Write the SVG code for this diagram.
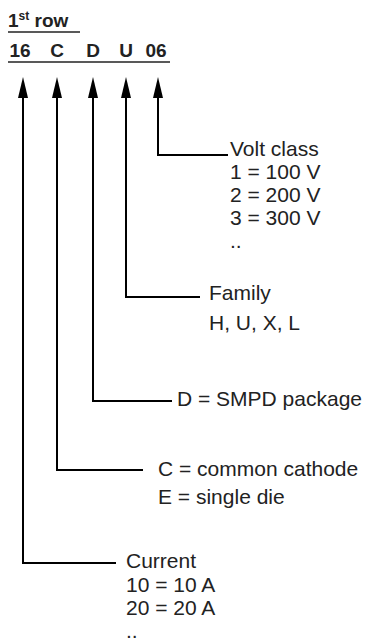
<svg xmlns="http://www.w3.org/2000/svg" width="373" height="644" viewBox="0 0 373 644">
<defs>
<style>
.t{font-family:"Liberation Sans",Arial,sans-serif;font-size:21px;fill:#222}
.h{font-family:"Liberation Sans",Arial,sans-serif;font-size:19px;font-weight:bold;fill:#222}
.ln{fill:none;stroke:#000;stroke-width:2}
.ul{stroke:#222;stroke-width:1.6}
.ah{fill:#000}
</style>
</defs>
<g id="header">
<text class="h" x="8" y="27">1<tspan font-size="12" dy="-7">st</tspan><tspan dy="7"> row</tspan></text>
<line class="ul" x1="8" y1="32" x2="80" y2="32"/>
<text class="h" y="57" text-anchor="middle"><tspan x="20">16</tspan><tspan x="57">C</tspan><tspan x="93">D</tspan><tspan x="126">U</tspan><tspan x="156">06</tspan></text>
<line class="ul" x1="8" y1="62" x2="170" y2="62"/>
</g>
<g id="connectors">
<path class="ln" d="M158 85 V155 H228"/>
<path class="ln" d="M126 85 V297 H200"/>
<path class="ln" d="M93 85 V401 H172"/>
<path class="ln" d="M57 85 V470 H143"/>
<path class="ln" d="M23 85 V563 H116"/>
<path class="ah" d="M158 77 L163 98 L153 98 Z"/>
<path class="ah" d="M126 77 L131 98 L121 98 Z"/>
<path class="ah" d="M93 77 L98 98 L88 98 Z"/>
<path class="ah" d="M57 77 L62 98 L52 98 Z"/>
<path class="ah" d="M23 77 L28 98 L18 98 Z"/>
</g>
<g id="volt">
<text class="t" x="230" y="156">Volt class</text>
<text class="t" x="230" y="179">1 = 100 V</text>
<text class="t" x="230" y="202">2 = 200 V</text>
<text class="t" x="230" y="225">3 = 300 V</text>
<text class="t" x="230" y="248">..</text>
</g>
<g id="family">
<text class="t" x="209" y="300">Family</text>
<text class="t" x="209" y="330">H, U, X, L</text>
</g>
<g id="package">
<text class="t" x="177" y="406">D = SMPD package</text>
</g>
<g id="config">
<text class="t" x="158" y="476">C = common cathode</text>
<text class="t" x="158" y="504">E = single die</text>
</g>
<g id="current">
<text class="t" x="126" y="568">Current</text>
<text class="t" x="126" y="592">10 = 10 A</text>
<text class="t" x="126" y="615">20 = 20 A</text>
<text class="t" x="126" y="638">..</text>
</g>
</svg>
